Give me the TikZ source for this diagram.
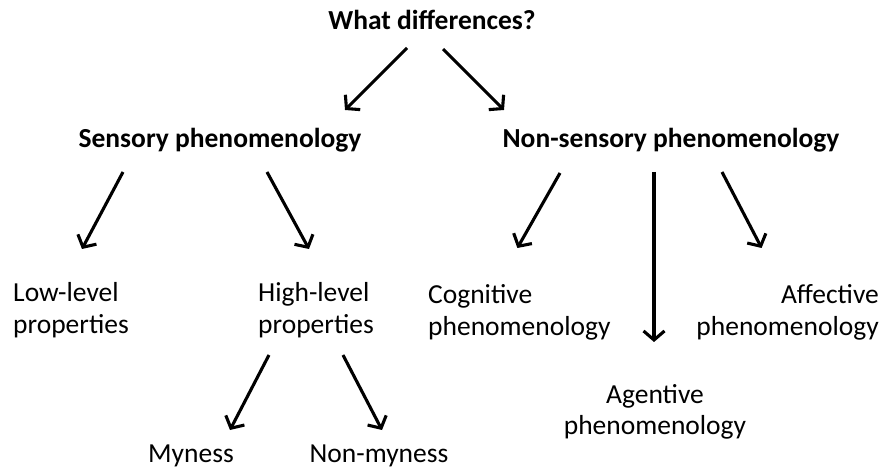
\documentclass[tikz,border=0pt]{standalone}
\usepackage{fontspec}
\setmainfont{Carlito}
\usetikzlibrary{arrows.meta,calc}

\begin{document}
\begin{tikzpicture}[x=1pt, y=-1pt,
    arr/.style={-{Straight Barb[length=9pt,width=21pt]}, line width=3.1pt},
    lbl/.style={inner sep=0pt, font=\fontsize{27.5}{32}\selectfont},
    head/.style={lbl, font=\fontsize{27.5}{32}\selectfont\bfseries}]
  \useasboundingbox [fill=white] (0,0) rectangle (884,470);
  % headings
  \node [head, anchor=base] (what) at (432,30) {What differences?};
  \node [head, anchor=base] (sens) at (220,148) {Sensory phenomenology};
  \node [head, anchor=base] (nons) at (671,148) {Non-sensory phenomenology};
  % leaves (base = last line)
  \node [lbl, anchor=base west, align=left] (low) at (13,334) {Low-level\\properties};
  \node [lbl, anchor=base west, align=left] (high) at (258,334) {High-level\\properties};
  \node [lbl, anchor=base] (my) at (191,462) {Myness};
  \node [lbl, anchor=base] (nonmy) at (379,462) {Non-myness};
  \node [lbl, anchor=base west, align=left] (cog) at (428,336) {Cognitive\\phenomenology};
  \node [lbl, anchor=base east, align=right] (aff) at (879,336) {Affective\\phenomenology};
  \node [lbl, anchor=base, align=center] (agen) at (655,435) {Agentive\\phenomenology};
  % arrows
  \draw [arr] ($(what.base)+(-25,18)$) -- ($(sens.base)+(125,-38)$);
  \draw [arr] ($(what.base)+(11,19)$) -- ($(nons.base)+(-167,-38)$);
  \draw [arr] ($(sens.base)+(-97,24)$) -- ($(low.base)+(11,-85)$);
  \draw [arr] ($(sens.base)+(47,24)$) -- ($(high.base)+(-7,-85)$);
  \draw [arr] ($(high.base)+(-47,21)$) -- ($(my.base)+(39,-32)$);
  \draw [arr] ($(high.base)+(27,21)$) -- ($(nonmy.base)+(3,-32)$);
  \draw [arr] ($(nons.base)+(-111,25)$) -- ($(cog.base)+(-2,-88)$);
  \draw [arr] ($(nons.base)+(-17,24)$) -- ($(agen.base)+(-1,-93)$);
  \draw [arr] ($(nons.base)+(51,24)$) -- ($(aff.base)+(-26,-88)$);
\end{tikzpicture}
\end{document}
